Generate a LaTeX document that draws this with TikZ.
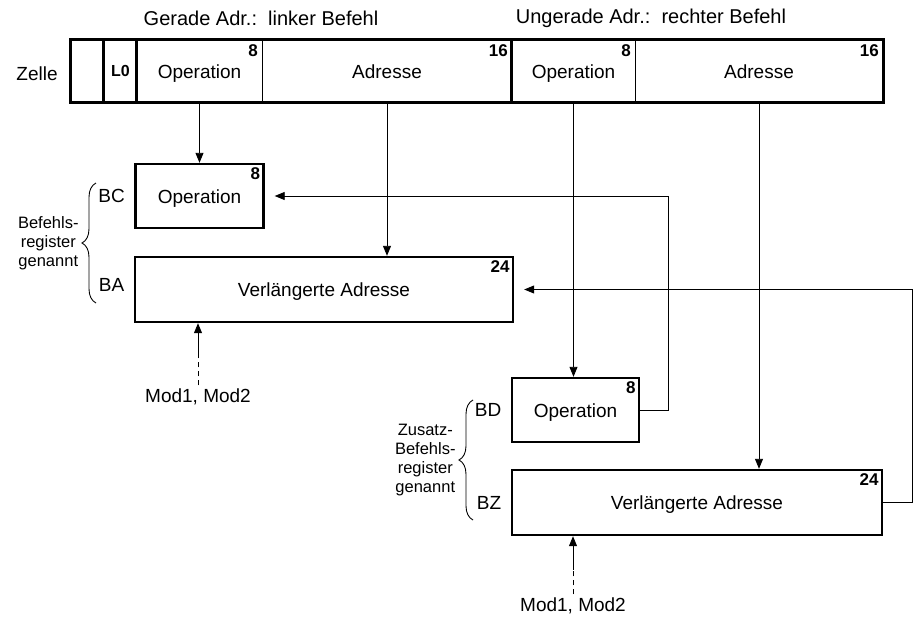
\documentclass[tikz,border=0pt]{standalone}
\usepackage{fontspec}
\setmainfont{Liberation Sans}
\usepackage{tikz}
\usetikzlibrary{arrows.meta,decorations.pathreplacing,positioning}
\tikzset{
    txt/.style={font=\fontsize{19}{22}\selectfont},
    note/.style={font=\fontsize{16.5}{19}\selectfont, align=center, inner sep=1pt},
    field/.style={draw, line width=0.9pt, minimum height=62pt, inner sep=0pt, text height=14pt, text depth=0pt, txt},
    register/.style={draw, line width=2.4pt, minimum height=64pt, inner sep=0pt, text height=14pt, text depth=0pt, txt},
    bits/.style={font=\fontsize{17}{19}\bfseries\selectfont, inner sep=4.5pt, anchor=north east},
    thick box/.style={line width=2.4pt},
    feed/.style={line width=0.9pt, -{Triangle[length=10pt,width=8pt]}},
    mod line/.style={line width=0.9pt, dash pattern=on 5pt off 4pt},
}

\begin{document}
\begin{tikzpicture}[x=1pt, y=-1pt]
    \useasboundingbox (0,0) rectangle (919,621);

    % the cell
    \node[txt] (Zelle) at (37,74) {Zelle};
    \node[txt, font=\fontsize{20}{22}\selectfont] (Gerade) at (261,18) {Gerade Adr.:\ \ linker Befehl};
    \node[txt, font=\fontsize{20}{22}\selectfont] (Ungerade) at (651,18) {Ungerade Adr.:\ \ rechter Befehl};

    \node[field, minimum width=33pt] (Leer) at (87.5,71) {};
    \node[field, minimum width=33pt, text height=11pt, font=\fontsize{16}{18}\bfseries\selectfont] (L0) at (120.5,71) {L0};
    \node[field, minimum width=125pt] (Operation L) at (199.5,71) {Operation};
    \node[field, minimum width=250pt] (Adresse L) at (387,71) {Adresse};
    \node[field, minimum width=123pt] (Operation R) at (573.5,71) {Operation};
    \node[field, minimum width=248pt] (Adresse R) at (759,71) {Adresse};
    \draw[thick box] (Leer.north west) rectangle (Adresse R.south east);
    \foreach \f in {L0, Operation L, Operation R}
        \draw[thick box] (\f.north west) -- (\f.south west);
    \foreach \f/\n in {Operation L/8, Adresse L/16, Operation R/8, Adresse R/16}
        \node[bits] at (\f.north east) {\n};

    % registers
    \node[register, minimum width=128pt] (BC) at (199.5,196) {Operation};
    \node[register, minimum width=378pt, minimum height=65pt] (BA) at (324,289.5) {Verlängerte Adresse};
    \node[register, minimum width=127pt] (BD) at (575.5,410) {Operation};
    \node[register, minimum width=370pt, minimum height=65pt] (BZ) at (697,502.5) {Verlängerte Adresse};
    \foreach \r/\n in {BC/8, BA/24, BD/8, BZ/24}
        \node[bits] at (\r.north east) {\n};

    \node[txt, left=6pt of BC] {BC};
    \node[txt, left=6pt of BA, yshift=5pt] {BA};
    \node[txt, left=6pt of BD] {BD};
    \node[txt, left=6pt of BZ] {BZ};

    \draw[decorate, decoration={brace, amplitude=14pt}, line width=0.9pt] (96,303) -- (96,183)
        node[midway, left=16pt, note] {Befehls-\\register\\genannt};
    \draw[decorate, decoration={brace, amplitude=14pt}, line width=0.9pt] (473,520) -- (473,400)
        node[midway, left=16pt, note] {Zusatz-\\Befehls-\\register\\genannt};

    % transfers
    \draw[feed] (Operation L.south) -- (Operation L.south |- BC.north);
    \draw[feed] (Adresse L.south) -- (Adresse L.south |- BA.north);
    \draw[feed] (Operation R.south) -- (Operation R.south |- BD.north);
    \draw[feed] (Adresse R.south) -- (Adresse R.south |- BZ.north);

    \coordinate (BD turn) at (668,0);
    \coordinate (BZ turn) at (912,0);
    \draw[feed, shorten >=10pt] (BD.east) -| (BD turn |- BC.east) -- (BC.east);
    \draw[feed, shorten >=10pt] (BZ.east) -| (BZ turn |- BA.east) -- (BA.east);

    % modifiers
    \node[txt] (Mod A) at (198,397) {Mod1, Mod2};
    \node[txt] (Mod B) at (573,606) {Mod1, Mod2};
    \coordinate (Mod A end) at (198,355);
    \coordinate (Mod B end) at (573,570);
    \draw[mod line] (Mod A) -- (Mod A end);
    \draw[feed] (Mod A end) -- (Mod A end |- BA.south);
    \draw[mod line] (Mod B) -- (Mod B end);
    \draw[feed] (Mod B end) -- (Mod B end |- BZ.south);
\end{tikzpicture}
\end{document}
